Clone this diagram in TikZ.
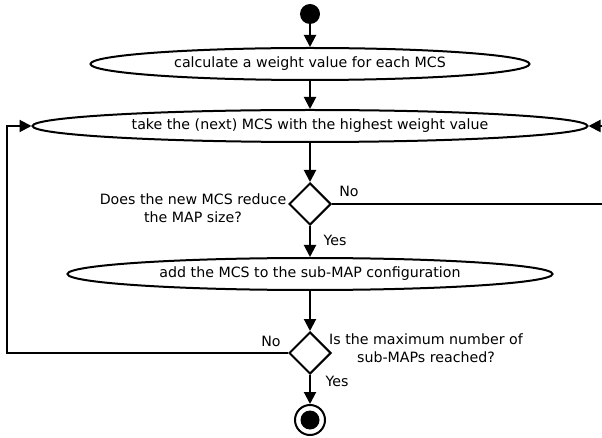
\documentclass[tikz,border=0pt]{standalone}
\usepackage{fontspec}
\setmainfont{DejaVu Sans}
\usetikzlibrary{shapes.geometric,arrows.meta}
\begin{document}
\begin{tikzpicture}[x=1pt,y=-1pt,
  every node/.style={font=\fontsize{14.2}{18}\selectfont},
  act/.style={draw,ellipse,line width=2pt,inner sep=0pt,minimum height=32pt},
  dec/.style={draw,diamond,line width=2pt,inner sep=0pt,minimum width=42pt,minimum height=42pt},
  flow/.style={line width=2pt,-{Triangle[length=12pt,width=12pt]}},
  lbl/.style={inner sep=0pt,align=center}]
\useasboundingbox (0,0) rectangle (602,438);
\node[circle,fill=black,minimum size=20pt,inner sep=0pt] (start) at (310,14) {};
\node[act,minimum width=439pt] (e1) at (310,64) {calculate a weight value for each MCS};
\node[act,minimum width=555pt] (e2) at (310,126) {take the (next) MCS with the highest weight value};
\node[dec] (d1) at (310,204) {};
\node[act,minimum width=485pt] (e3) at (310,274) {add the MCS to the sub-MAP configuration};
\node[dec] (d2) at (310,353) {};
\node[circle,draw,line width=2pt,minimum size=30pt,inner sep=0pt] (end) at (310,420) {};
\node[circle,fill=black,minimum size=19pt,inner sep=0pt] (endin) at (310,420) {};
\coordinate (rt) at (630,204);
\coordinate (lf) at (7,353);
\draw[flow] (start) -- (e1);
\draw[flow] (e1) -- (e2);
\draw[flow] (e2) -- (d1);
\draw[flow] (d1) -- (e3);
\draw[flow] (e3) -- (d2);
\draw[flow] (d2) -- (end);
\draw[flow] (d1.east) -- (rt) |- (e2.east);
\draw[flow] (d2.west) -- (lf) |- (e2.west);
\node[lbl] (no1) at (349,191) {No};
\node[lbl] (yes1) at (335,240) {Yes};
\node[lbl] (q1) at (193,208) {Does the new MCS reduce\\the MAP size?};
\node[lbl] (no2) at (271,341) {No};
\node[lbl] (q2) at (426,348) {Is the maximum number of\\sub-MAPs reached?};
\node[lbl] (yes2) at (337,381) {Yes};
\end{tikzpicture}
\end{document}
